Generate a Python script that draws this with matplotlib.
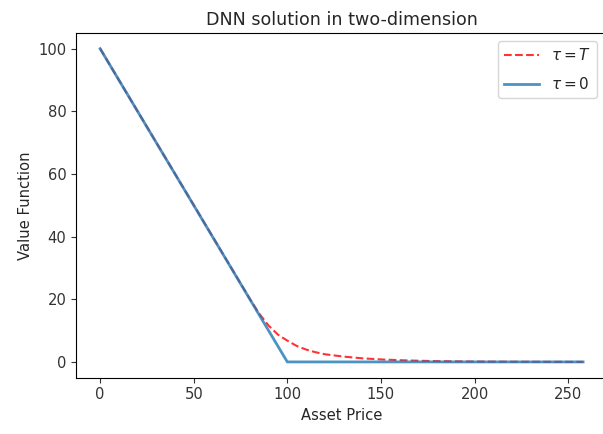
import matplotlib
matplotlib.use('Agg')
import matplotlib.pyplot as plt

# tau = T (network solution)
price_T = [0, 80, 85, 90, 95, 100, 105, 110, 115, 120, 130, 140, 150, 160, 170, 180, 200, 220, 258]
value_T = [100, 20.1, 15.4, 11.6, 8.7, 6.8, 5.1, 3.95, 3.1, 2.45, 1.7, 1.15, 0.8, 0.55, 0.38, 0.25, 0.12, 0.05, 0.01]

# tau = 0 (payoff)
price_0 = [0, 100, 258]
value_0 = [100, 0, 0]

plt.rcParams['font.size'] = 10.6
plt.rcParams['text.color'] = '#262626'
plt.rcParams['axes.labelcolor'] = '#262626'
plt.rcParams['xtick.color'] = '#333333'
plt.rcParams['ytick.color'] = '#333333'

fig = plt.figure(figsize=(6.03, 4.34), dpi=100)
ax = fig.add_axes([0.126, 0.13, 0.881, 0.794])

ax.plot(price_T, value_T, 'r--', alpha=0.8, label=r'$\tau=T$')
ax.plot(price_0, value_0, color='tab:blue', alpha=0.8, linewidth=2, label=r'$\tau=0$')

ax.set_title('DNN solution in two-dimension', fontsize=12.6)
ax.set_xlabel('Asset Price')
ax.set_ylabel('Value Function')
ax.legend(loc='upper right', fontsize=11, handlelength=2.3, labelspacing=0.85,
          bbox_to_anchor=(0.99, 0.99), borderaxespad=0.3)

fig.savefig('out.png', dpi=100)
